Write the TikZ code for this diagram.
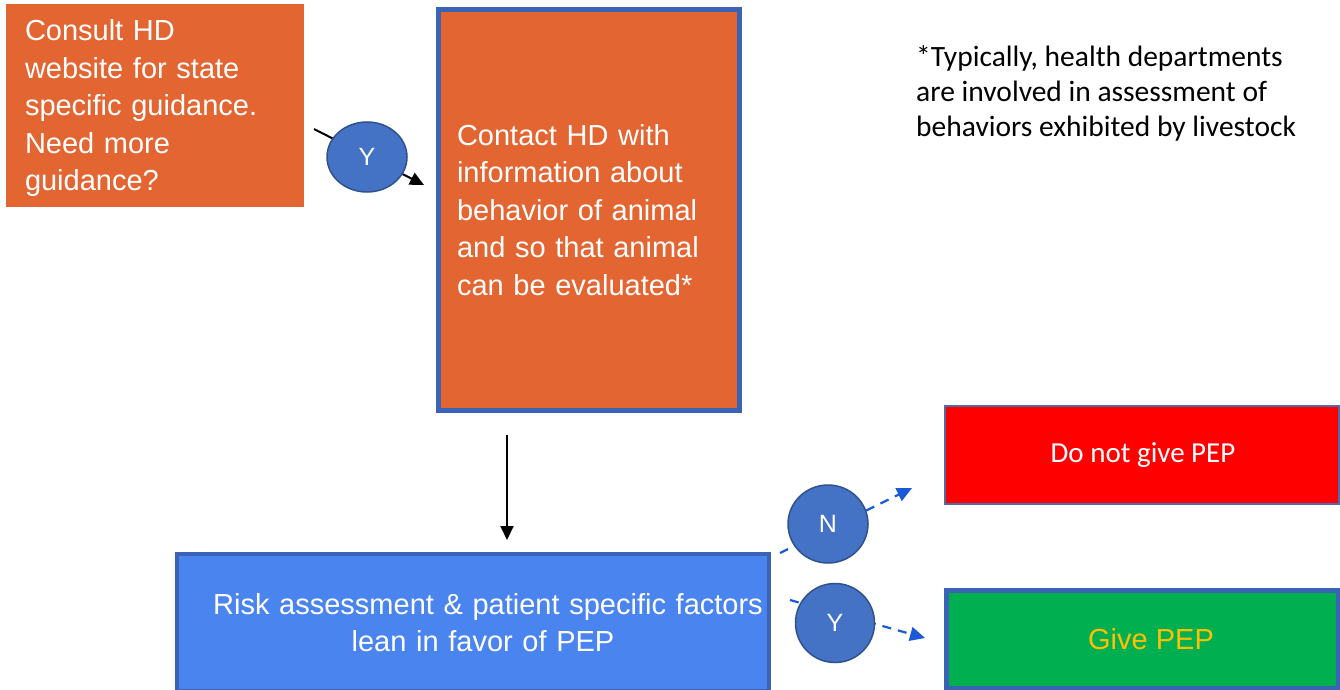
\documentclass[tikz,border=0pt]{standalone}
\usepackage{fontspec}
\setmainfont{Liberation Sans}
\newfontfamily\calibri{Carlito}
\usetikzlibrary{arrows.meta,shapes.geometric}
\definecolor{hdorange}{HTML}{E36532}
\definecolor{hdborder}{HTML}{3A63B6}
\definecolor{circfill}{HTML}{4472C4}
\definecolor{circline}{HTML}{2F528F}
\definecolor{riskblue}{HTML}{4A84EE}
\definecolor{pepgreen}{HTML}{00B050}
\definecolor{pepyellow}{HTML}{FFC000}
\definecolor{dashblue}{HTML}{1A5AD6}
\tikzset{
  box/.style={rectangle, inner sep=0pt, text=white, font=\fontsize{29}{37.5}\selectfont},
  decision/.style={ellipse, draw=circline, line width=1.5pt, fill=circfill, text=white,
    inner sep=0pt, font=\fontsize{25}{28}\selectfont},
  solidarrow/.style={draw=black, line width=2pt, -{Triangle[length=14pt,width=13pt]}},
  dasharrow/.style={draw=dashblue, line width=2.2pt, dash pattern=on 9pt off 7pt,
    -{Triangle[length=15pt,width=14pt]}},
}
\begin{document}
\begin{tikzpicture}[x=1pt,y=-1pt]
\useasboundingbox (0,0) rectangle (1340,690);
% boxes
\node[box, fill=hdorange, minimum width=298pt, minimum height=203pt, text width=262pt, align=left]
  (consult) at (155,105.5) {};
\node[box, anchor=center, text width=262pt, align=left] (consulttext) at (156,108.5)
  {Consult HD\\website for state\\specific guidance.\\Need more\\guidance?};
\node[box, fill=hdorange, draw=hdborder, line width=5pt, minimum width=301pt, minimum height=400pt,
  text width=264pt, align=left]
  (contact) at (589,210) {Contact HD with\\information about\\behavior of animal\\and so that animal\\can be evaluated*};
\node[box, fill=riskblue, draw=hdborder, line width=4pt, minimum width=592pt, minimum height=137pt,
  text width=592pt, align=center]
  (risk) at (473,622.5) {\hspace*{30pt}Risk assessment \& patient specific factors\\\hspace*{20pt}lean in favor of PEP};
\node[box, fill=red, draw=hdborder!70!gray, line width=1.5pt, minimum width=394pt, minimum height=98pt,
  font=\calibri\fontsize{29}{34}\selectfont]
  (nopep) at (1142,455) {\hspace*{2pt}Do not give PEP};
\node[box, fill=pepgreen, draw=hdborder, line width=5pt, minimum width=392pt, minimum height=98pt,
  text=pepyellow]
  (pep) at (1142,639) {\hspace*{18pt}Give PEP};
% footnote
\node[anchor=north west, inner sep=0pt, align=left, font=\calibri\fontsize{29.5}{35}\selectfont]
  (note) at (916,45) {*Typically, health departments\\are involved in assessment of\\behaviors exhibited by livestock};
% connector end points
\coordinate (ys) at (314,129);
\coordinate (ye) at (424,185);
\coordinate (ds) at (507,435);
\coordinate (de) at (507,540);
\coordinate (ns) at (780,553);
\coordinate (ne) at (912,488);
\coordinate (y2s) at (790,600);
\coordinate (y2e) at (925,638);
% connectors
\draw[solidarrow] (ys) -- (ye);
\draw[solidarrow] (ds) -- (de);
\draw[dasharrow] (ns) -- (ne);
\draw[dasharrow] (y2s) -- (y2e);
% decision circles
\node[decision, minimum width=80pt, minimum height=70pt] (y1) at (367,157) {Y};
\node[decision, minimum width=80pt, minimum height=78pt] (n) at (828,524) {N};
\node[decision, minimum width=79pt, minimum height=79pt] (y2) at (835,623) {Y};
\end{tikzpicture}
\end{document}
